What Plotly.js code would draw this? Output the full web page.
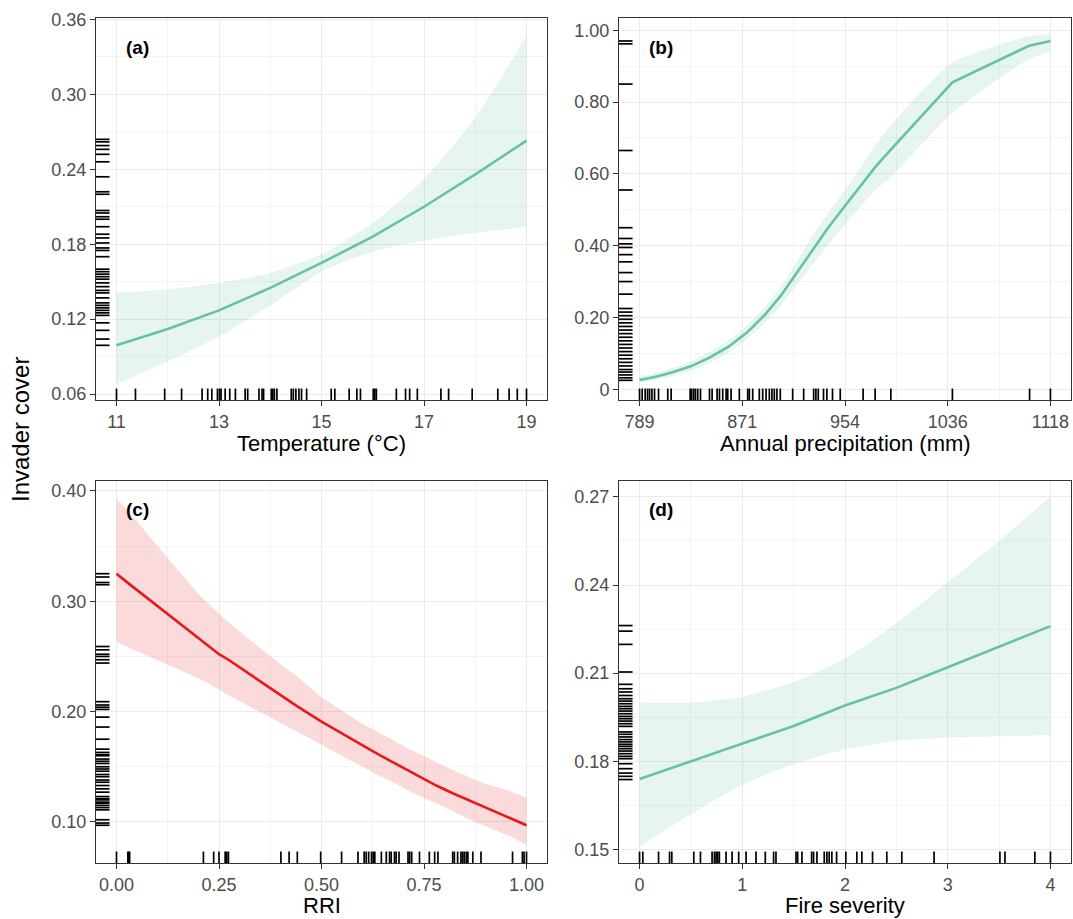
<!DOCTYPE html>
<html>
<head>
<meta charset="utf-8">
<script src="https://cdn.plot.ly/plotly-3.0.1.min.js"></script>
<style>html,body{margin:0;padding:0;background:#fff;}#chart{width:1073px;height:919px;}</style>
</head>
<body>
<div id="chart"></div>
<script>
// ---------- Panel (a): Temperature ----------
const tempX   = [11, 12, 13, 14, 15, 16, 17, 18, 19];
const tempFit = [0.099, 0.112, 0.127, 0.145, 0.165, 0.186, 0.210, 0.236, 0.263];
const tempHi  = [0.141, 0.144, 0.149, 0.157, 0.172, 0.197, 0.232, 0.281, 0.347];
const tempLo  = [0.068, 0.086, 0.106, 0.131, 0.158, 0.174, 0.183, 0.189, 0.194];
const tempRugX = [11.00, 11.37, 11.94, 12.27, 12.67, 12.78, 12.86, 12.97, 13.01, 13.04, 13.12, 13.21, 13.32, 13.51, 13.56, 13.78, 13.84, 13.87, 14.02, 14.05, 14.08, 14.13, 14.41, 14.45, 14.50, 14.56, 14.61, 14.71, 15.19, 15.26, 15.54, 15.69, 15.76, 16.01, 16.04, 16.07, 16.46, 16.64, 16.72, 16.87, 17.33, 17.48, 17.94, 18.44, 18.66, 18.82, 19.00];
const tempRugY = [0.264, 0.262, 0.259, 0.256, 0.252, 0.246, 0.234, 0.222, 0.220, 0.207, 0.205, 0.202, 0.200, 0.194, 0.188, 0.185, 0.181, 0.177, 0.175, 0.170, 0.160, 0.158, 0.156, 0.154, 0.152, 0.149, 0.146, 0.143, 0.141, 0.137, 0.133, 0.131, 0.129, 0.127, 0.125, 0.123, 0.117, 0.111, 0.104, 0.099];
const tempTicks = [11, 13, 15, 17, 19];
const tempTickText = ['11', '13', '15', '17', '19'];
const coverTicksA = [0.06, 0.12, 0.18, 0.24, 0.30, 0.36];
const coverTickTextA = ['0.06', '0.12', '0.18', '0.24', '0.30', '0.36'];

// ---------- Panel (b): Annual precipitation ----------
const precX   = [789, 801, 814, 830, 845, 860, 875, 890, 902, 912, 920, 930, 940, 950, 968, 978, 990, 1039.5, 1101, 1118];
const precFit = [0.026, 0.034, 0.046, 0.064, 0.088, 0.118, 0.158, 0.210, 0.260, 0.310, 0.350, 0.400, 0.450, 0.495, 0.575, 0.620, 0.667, 0.855, 0.957, 0.970];
const precHi  = [0.036, 0.045, 0.058, 0.078, 0.104, 0.136, 0.178, 0.232, 0.285, 0.340, 0.385, 0.440, 0.490, 0.538, 0.627, 0.680, 0.735, 0.910, 0.983, 0.990];
const precLo  = [0.018, 0.025, 0.036, 0.052, 0.074, 0.102, 0.140, 0.188, 0.233, 0.278, 0.314, 0.358, 0.402, 0.445, 0.517, 0.556, 0.590, 0.770, 0.920, 0.940];
const precRugX = [789, 791.1, 793.5, 795.4, 797, 798.9, 801, 804.2, 811.6, 814.3, 829.5, 830.8, 832.4, 833.8, 835.6, 837.8, 845, 847.1, 851.1, 853, 855.6, 858.3, 859.6, 862.3, 868.9, 875.6, 876.9, 879.6, 884.9, 887.6, 890.3, 892.9, 895, 896.9, 899, 901.7, 911.6, 920.4, 928.4, 930.2, 932.1, 936.3, 939, 943.5, 949.7, 968, 977.6, 990.2, 1039.5, 1101.3, 1118];
const precRugY = [0.970, 0.962, 0.850, 0.665, 0.555, 0.450, 0.420, 0.405, 0.395, 0.375, 0.355, 0.325, 0.300, 0.265, 0.225, 0.215, 0.205, 0.195, 0.185, 0.175, 0.165, 0.155, 0.145, 0.135, 0.125, 0.115, 0.105, 0.095, 0.085, 0.075, 0.065, 0.055, 0.048, 0.040, 0.032, 0.025];
const precTicks = [789, 871.25, 953.5, 1035.75, 1118];
const precTickText = ['789', '871', '954', '1036', '1118'];
const coverTicksB = [0, 0.2, 0.4, 0.6, 0.8, 1.0];
const coverTickTextB = ['0', '0.20', '0.40', '0.60', '0.80', '1.00'];

// ---------- Panel (c): RRI ----------
const rriX   = [0, 0.03, 0.212, 0.25, 0.273, 0.40, 0.44, 0.50, 0.55, 0.60, 0.63, 0.67, 0.72, 0.76, 0.78, 0.82, 0.857, 0.889, 0.966, 1.0];
const rriFit = [0.325, 0.316, 0.263, 0.252, 0.247, 0.215, 0.205, 0.191, 0.180, 0.169, 0.163, 0.155, 0.145, 0.137, 0.133, 0.126, 0.120, 0.115, 0.102, 0.097];
const rriHi  = [0.393, 0.381, 0.302, 0.289, 0.281, 0.243, 0.232, 0.213, 0.201, 0.189, 0.183, 0.175, 0.165, 0.158, 0.154, 0.147, 0.141, 0.136, 0.127, 0.122];
const rriLo  = [0.263, 0.258, 0.228, 0.220, 0.215, 0.190, 0.182, 0.170, 0.160, 0.150, 0.144, 0.137, 0.127, 0.120, 0.117, 0.110, 0.103, 0.098, 0.086, 0.079];
const rriRugX = [0, 0.0276, 0.030, 0.032, 0.212, 0.237, 0.250, 0.265, 0.269, 0.273, 0.401, 0.421, 0.441, 0.498, 0.549, 0.589, 0.604, 0.609, 0.615, 0.622, 0.626, 0.630, 0.646, 0.658, 0.666, 0.670, 0.678, 0.682, 0.689, 0.711, 0.715, 0.720, 0.739, 0.763, 0.776, 0.784, 0.820, 0.824, 0.832, 0.840, 0.844, 0.848, 0.853, 0.857, 0.869, 0.889, 0.966, 0.990, 0.994, 1.0];
const rriRugY = [0.325, 0.322, 0.317, 0.315, 0.259, 0.256, 0.252, 0.250, 0.247, 0.244, 0.209, 0.206, 0.204, 0.202, 0.195, 0.186, 0.175, 0.166, 0.163, 0.161, 0.160, 0.157, 0.155, 0.153, 0.150, 0.148, 0.146, 0.143, 0.141, 0.138, 0.136, 0.133, 0.130, 0.127, 0.123, 0.121, 0.120, 0.118, 0.117, 0.115, 0.113, 0.111, 0.102, 0.099, 0.097];
const rriTicks = [0, 0.25, 0.5, 0.75, 1.0];
const rriTickText = ['0.00', '0.25', '0.50', '0.75', '1.00'];
const coverTicksC = [0.10, 0.20, 0.30, 0.40];
const coverTickTextC = ['0.10', '0.20', '0.30', '0.40'];

// ---------- Panel (d): Fire severity ----------
const fireX   = [0, 0.5, 1, 1.5, 2, 2.5, 3, 3.5, 4];
const fireFit = [0.174, 0.180, 0.186, 0.192, 0.199, 0.205, 0.212, 0.219, 0.226];
const fireHi  = [0.200, 0.200, 0.202, 0.207, 0.215, 0.227, 0.241, 0.255, 0.270];
const fireLo  = [0.151, 0.162, 0.172, 0.179, 0.184, 0.187, 0.188, 0.1885, 0.189];
const fireRugX = [0, 0.032, 0.185, 0.292, 0.314, 0.528, 0.593, 0.706, 0.729, 0.745, 0.761, 0.777, 0.842, 0.901, 0.965, 1.037, 1.134, 1.224, 1.305, 1.328, 1.523, 1.539, 1.581, 1.675, 1.694, 1.727, 1.798, 1.824, 1.846, 1.872, 1.918, 2.008, 2.115, 2.164, 2.268, 2.407, 2.553, 2.867, 3.508, 3.557, 3.848, 4.0];
const fireRugY = [0.2262, 0.2243, 0.2198, 0.2104, 0.2062, 0.2047, 0.2036, 0.2024, 0.2013, 0.2005, 0.1996, 0.1987, 0.1979, 0.1971, 0.1962, 0.1953, 0.1945, 0.1937, 0.1928, 0.1919, 0.1900, 0.1892, 0.1883, 0.1874, 0.1866, 0.1858, 0.1851, 0.1843, 0.1835, 0.1826, 0.1817, 0.1809, 0.1792, 0.1775, 0.1760, 0.1749, 0.1738];
const fireTicks = [0, 1, 2, 3, 4];
const fireTickText = ['0', '1', '2', '3', '4'];
const coverTicksD = [0.15, 0.18, 0.21, 0.24, 0.27];
const coverTickTextD = ['0.15', '0.18', '0.21', '0.24', '0.27'];

// ---------- Text ----------
const yTitle = 'Invader cover';
const xTitles = ['Temperature (°C)', 'Annual precipitation (mm)', 'RRI', 'Fire severity'];
const panelLabels = ['(a)', '(b)', '(c)', '(d)'];

// ---------- Styling ----------
const W = 1073, H = 919;
const TEAL = '#66c2a5', TEAL_FILL = 'rgba(102,194,165,0.16)';
const RED = '#e41a1c', RED_FILL = 'rgba(228,26,28,0.16)';
const FONT = 'Liberation Sans, Arial, Helvetica, sans-serif';

function mids(arr) { const m = []; for (let i = 0; i < arr.length - 1; i++) m.push((arr[i] + arr[i + 1]) / 2); return m; }

const panels = [
  {x: tempX, fit: tempFit, hi: tempHi, lo: tempLo, rx: tempRugX, ry: tempRugY, xt: tempTicks, xtt: tempTickText, yt: coverTicksA, ytt: coverTickTextA,
   xr: [10.6, 19.4], yr: [0.0552, 0.3612], px: [96, 547], py: [18, 400], col: TEAL, fill: TEAL_FILL},
  {x: precX, fit: precFit, hi: precHi, lo: precLo, rx: precRugX, ry: precRugY, xt: precTicks, xtt: precTickText, yt: coverTicksB, ytt: coverTickTextB,
   xr: [772.55, 1134.45], yr: [-0.0298, 1.034], px: [619, 1071], py: [18, 400], col: TEAL, fill: TEAL_FILL},
  {x: rriX, fit: rriFit, hi: rriHi, lo: rriLo, rx: rriRugX, ry: rriRugY, xt: rriTicks, xtt: rriTickText, yt: coverTicksC, ytt: coverTickTextC,
   xr: [-0.05, 1.05], yr: [0.0628, 0.409], px: [96, 547], py: [481, 863], col: RED, fill: RED_FILL},
  {x: fireX, fit: fireFit, hi: fireHi, lo: fireLo, rx: fireRugX, ry: fireRugY, xt: fireTicks, xtt: fireTickText, yt: coverTicksD, ytt: coverTickTextD,
   xr: [-0.2, 4.2], yr: [0.1454, 0.2754], px: [619, 1071], py: [481, 863], col: TEAL, fill: TEAL_FILL}
];

const traces = [];
const shapes = [];
const annotations = [];
const layout = {
  width: W, height: H, margin: {l: 0, r: 0, t: 0, b: 0},
  paper_bgcolor: '#ffffff', plot_bgcolor: '#ffffff', showlegend: false,
  font: {family: FONT, color: '#000'}
};

panels.forEach((p, i) => {
  const n = i + 1;
  const xa = n === 1 ? 'x' : 'x' + n, ya = n === 1 ? 'y' : 'y' + n;
  const xKey = n === 1 ? 'xaxis' : 'xaxis' + n, yKey = n === 1 ? 'yaxis' : 'yaxis' + n;
  traces.push({x: p.x, y: p.lo, xaxis: xa, yaxis: ya, type: 'scatter', mode: 'lines', line: {width: 0, color: 'rgba(0,0,0,0)', shape: 'spline', smoothing: 0.6}, hoverinfo: 'skip'});
  traces.push({x: p.x, y: p.hi, xaxis: xa, yaxis: ya, type: 'scatter', mode: 'lines', fill: 'tonexty', fillcolor: p.fill, line: {width: 0, color: 'rgba(0,0,0,0)', shape: 'spline', smoothing: 0.6}, hoverinfo: 'skip'});
  traces.push({x: p.x, y: p.fit, xaxis: xa, yaxis: ya, type: 'scatter', mode: 'lines', line: {width: 2.6, color: p.col}});
  const common = {
    showline: true, mirror: true, linecolor: '#333333', linewidth: 1,
    ticks: 'outside', ticklen: 5, tickwidth: 1, tickcolor: '#333333',
    showgrid: true, gridcolor: '#ebebeb', gridwidth: 1, zeroline: false,
    tickfont: {family: FONT, size: 18, color: '#4d4d4d'}, automargin: false, fixedrange: true
  };
  layout[xKey] = Object.assign({}, common, {
    domain: [p.px[0] / W, p.px[1] / W], anchor: ya, range: p.xr,
    tickmode: 'array', tickvals: p.xt, ticktext: p.xtt,
    minor: {tickmode: 'array', tickvals: mids(p.xt), showgrid: true, gridcolor: '#f4f4f4', gridwidth: 1, ticks: ''}
  });
  layout[yKey] = Object.assign({}, common, {
    domain: [1 - p.py[1] / H, 1 - p.py[0] / H], anchor: xa, range: p.yr,
    tickmode: 'array', tickvals: p.yt, ticktext: p.ytt,
    minor: {tickmode: 'array', tickvals: mids(p.yt).concat([p.yt[p.yt.length - 1] + (p.yt[1] - p.yt[0]) / 2, p.yt[0] - (p.yt[1] - p.yt[0]) / 2]), showgrid: true, gridcolor: '#f4f4f4', gridwidth: 1, ticks: ''}
  });
  // rugs
  p.rx.forEach(v => shapes.push({type: 'line', xref: xa, yref: ya + ' domain', x0: v, x1: v, y0: 0, y1: 0.03, line: {color: '#000', width: 1.7}}));
  p.ry.forEach(v => shapes.push({type: 'line', xref: xa + ' domain', yref: ya, x0: 0, x1: 0.03, y0: v, y1: v, line: {color: '#000', width: 1.7}}));
  // panel label
  annotations.push({text: '<b>' + panelLabels[i] + '</b>', xref: 'paper', yref: 'paper', x: (p.px[0] + 28) / W, y: 1 - (p.py[0] + 29) / H,
    xanchor: 'left', yanchor: 'middle', showarrow: false, font: {family: FONT, size: 19, color: '#000'}});
  // x title
  const bottomRow = p.py[1] > 600;
  annotations.push({text: xTitles[i], xref: 'paper', yref: 'paper', x: (p.px[0] + p.px[1]) / 2 / W,
    y: bottomRow ? 0 : 1 - (p.py[1] + 44) / H, borderpad: 0,
    xanchor: 'center', yanchor: bottomRow ? 'bottom' : 'middle', showarrow: false, font: {family: FONT, size: 22, color: '#000'}});
});

annotations.push({text: yTitle, xref: 'paper', yref: 'paper', x: 20 / W, y: 1 - 430 / H, textangle: -90,
  xanchor: 'center', yanchor: 'middle', showarrow: false, font: {family: FONT, size: 24, color: '#000'}});

layout.shapes = shapes;
layout.annotations = annotations;

Plotly.newPlot('chart', traces, layout, {displayModeBar: false, staticPlot: true});
</script>
</body>
</html>
